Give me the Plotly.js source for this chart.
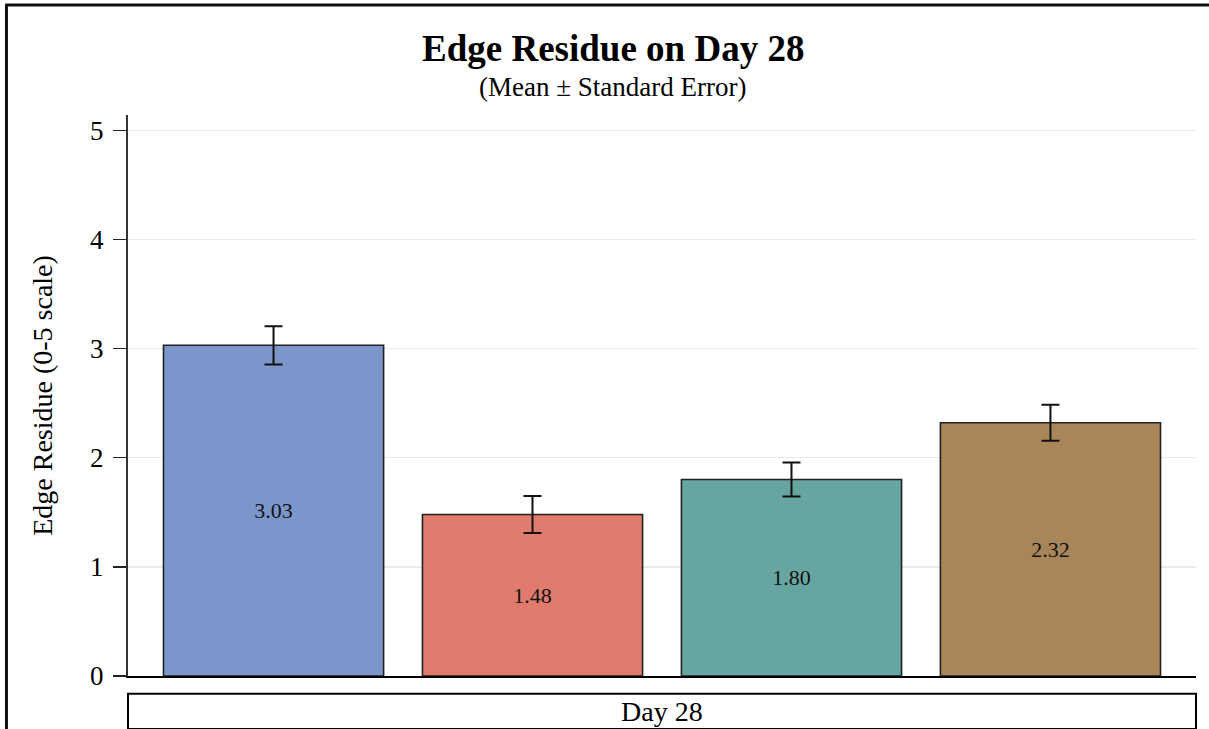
<!DOCTYPE html>
<html>
<head>
<meta charset="utf-8">
<script src="https://cdn.plot.ly/plotly-3.0.1.min.js"></script>
<style>html,body{margin:0;padding:0;background:#fff;}#chart{width:1209px;height:729px;}</style>
</head>
<body>
<div id="chart"></div>
<script>
const categories = ["Group 1", "Group 2", "Group 3", "Group 4"];
const means = [3.03, 1.48, 1.80, 2.32];
const stdErrors = [0.175, 0.17, 0.155, 0.165];
const barColors = ["#7B96CB", "#E07B6D", "#67A6A0", "#A8865A"];
const yTicks = [0, 1, 2, 3, 4, 5];
const panelLabel = "Day 28";
const chartTitle = "Edge Residue on Day 28";
const chartSubtitle = "(Mean ± Standard Error)";
const yTitle = "Edge Residue (0-5 scale)";

const serif = "Liberation Serif, Times New Roman, serif";

const trace = {
  type: "bar",
  x: categories,
  y: means,
  width: 0.85,
  marker: { color: barColors, line: { color: "#222222", width: 1.6 } },
  error_y: { type: "data", array: stdErrors, visible: true, color: "#111111", thickness: 2, width: 9 },
  text: means.map(v => v.toFixed(2)),
  textposition: "inside",
  insidetextanchor: "middle",
  textfont: { family: serif, size: 22, color: "#111111" },
  hoverinfo: "skip"
};

const layout = {
  width: 1209, height: 729,
  margin: { l: 128, r: 13, t: 115, b: 53 },
  paper_bgcolor: "#ffffff", plot_bgcolor: "#ffffff",
  showlegend: false,
  font: { family: serif, color: "#000000" },
  xaxis: {
    range: [-0.562, 3.562],
    showticklabels: false, ticks: "",
    showgrid: false, zeroline: false,
    showline: true, linecolor: "#000000", linewidth: 2
  },
  yaxis: {
    range: [0, 5.14],
    tickvals: yTicks,
    ticktext: yTicks.map(String),
    ticks: "outside", ticklen: 13, tickcolor: "#222222", tickwidth: 1.5,
    ticklabelstandoff: 4,
    tickfont: { family: serif, size: 27, color: "#000000" },
    showgrid: true, gridcolor: "#eaeaea", gridwidth: 1.5,
    zeroline: false,
    showline: true, linecolor: "#333333", linewidth: 2,
    title: { text: yTitle, font: { family: serif, size: 28, color: "#000000" }, standoff: 29 }
  },
  shapes: [
    { type: "rect", xref: "paper", yref: "paper", x0: 0, x1: 1, y0: -0.0315, y1: -0.0945,
      line: { color: "#000000", width: 2 }, fillcolor: "#ffffff" },
    { type: "line", xref: "paper", yref: "paper", x0: -0.115, x1: 1.02, y0: 1.196, y1: 1.196,
      line: { color: "#111111", width: 3 } },
    { type: "line", xref: "paper", yref: "paper", x0: -0.1138, x1: -0.1138, y0: -0.097, y1: 1.196,
      line: { color: "#111111", width: 3 } }
  ],
  annotations: [
    { text: "<b>" + chartTitle + "</b>", xref: "paper", yref: "paper", x: 0.454, y: 1.1194,
      xanchor: "center", yanchor: "middle", showarrow: false,
      font: { family: serif, size: 37, color: "#000000" } },
    { text: chartSubtitle, xref: "paper", yref: "paper", x: 0.454, y: 1.0499,
      xanchor: "center", yanchor: "middle", showarrow: false,
      font: { family: serif, size: 27, color: "#000000" } },
    { text: panelLabel, xref: "paper", yref: "paper", x: 0.5, y: -0.063, xanchor: "center", yanchor: "middle",
      showarrow: false, font: { family: serif, size: 28, color: "#000000" } }
  ]
};

Plotly.newPlot("chart", [trace], layout, { displayModeBar: false, staticPlot: true });
</script>
</body>
</html>
